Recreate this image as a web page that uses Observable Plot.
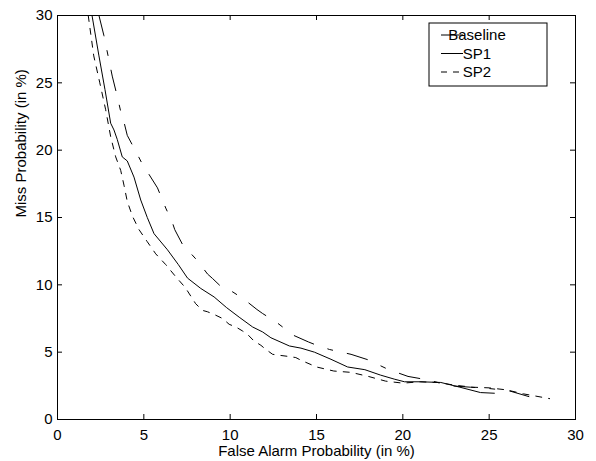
<!DOCTYPE html>
<html>
<head>
<meta charset="utf-8">
<script src="https://cdn.jsdelivr.net/npm/d3@7"></script>
<script src="https://cdn.jsdelivr.net/npm/@observablehq/plot@0.6"></script>
<style>
  html, body { margin: 0; padding: 0; background: #fff; }
  #chart svg { display: block; }
</style>
</head>
<body>
<div id="chart"></div>
<script>
const seriesNames = ["Baseline", "SP1", "SP2"];

const baselineX = [2.4, 2.69, 3.17, 3.46, 3.71, 3.81, 4.04, 4.62, 5.1, 5.3, 5.79, 6.27, 6.66, 6.79, 7.24, 8.1, 8.69, 8.98, 9.65, 10.14, 10.8, 11.55, 11.88, 12.65, 13.67, 14.53, 14.88, 15.75, 17.0, 17.97, 19.15, 20.3, 21.4, 22.8, 23.9, 25.0, 26.1, 27.3];
const baselineY = [30, 28.5, 25.5, 24.0, 22.6, 22.3, 21.1, 19.7, 18.5, 18.2, 17.2, 15.7, 14.6, 14.1, 13.0, 11.8, 10.8, 10.47, 9.65, 9.48, 8.93, 8.17, 7.87, 7.25, 6.25, 5.76, 5.58, 5.2, 4.84, 4.44, 3.72, 3.2, 2.95, 2.5, 2.4, 2.3, 2.15, 1.7];

const sp1X = [2.0, 2.4, 2.75, 3.08, 3.27, 3.46, 3.75, 4.04, 4.43, 4.82, 5.2, 5.59, 6.37, 7.0, 7.53, 8.3, 9.07, 9.8, 10.52, 11.3, 11.88, 12.36, 13.43, 14.1, 14.88, 15.84, 16.8, 17.8, 18.7, 19.5, 20.1, 21.0, 22.2, 23.3, 24.5, 25.3];
const sp1Y = [30, 27, 24.5, 22.0, 21.5, 20.8, 19.5, 19.2, 18.0, 16.3, 15.0, 13.8, 12.6, 11.5, 10.5, 9.73, 9.1, 8.3, 7.6, 6.87, 6.5, 6.07, 5.46, 5.3, 5.0, 4.47, 3.9, 3.7, 3.3, 3.0, 2.8, 2.8, 2.75, 2.4, 2.0, 1.95];

const sp2X = [1.78, 2.1, 2.45, 2.79, 3.08, 3.37, 3.66, 3.85, 4.04, 4.34, 4.72, 5.2, 5.69, 6.27, 6.85, 7.4, 8.0, 8.4, 8.69, 9.17, 9.56, 9.94, 10.33, 10.72, 11.0, 11.38, 11.78, 12.07, 12.46, 12.84, 13.33, 13.8, 14.1, 15, 16, 17, 18, 19, 20, 21, 22, 23, 24, 25, 26, 27, 28.5];
const sp2Y = [30, 27, 25, 23.0, 21.0, 19.5, 18.5, 17.4, 16.2, 15.1, 14.1, 13.2, 12.3, 11.5, 10.6, 9.8, 8.6, 8.1, 8.0, 7.74, 7.5, 7.07, 6.87, 6.57, 6.33, 5.83, 5.51, 5.2, 4.84, 4.77, 4.69, 4.6, 4.4, 3.9, 3.6, 3.5, 3.2, 2.85, 2.7, 2.8, 2.75, 2.55, 2.4, 2.35, 2.2, 1.9, 1.55];

const xTicks = [0, 5, 10, 15, 20, 25, 30];
const yTicks = [0, 5, 10, 15, 20, 25, 30];
const xLabel = "False Alarm Probability (in %)";
const yLabel = "Miss Probability (in %)";

const dashes = { "Baseline": "21,15,5,15", "SP1": null, "SP2": "6,7" };

const rows = (name, xs, ys) => xs.map((x, i) => ({ series: name, x, y: ys[i] }));
const data = [
  ...rows("Baseline", baselineX, baselineY),
  ...rows("SP1", sp1X, sp1Y),
  ...rows("SP2", sp2X, sp2Y)
];

const W = 596, H = 461;
const mTop = 15, mBottom = 42, mLeft = 57, mRight = 21;
const fw = W - mLeft - mRight, fh = H - mTop - mBottom;
const font = "'Liberation Sans', Arial, Helvetica, sans-serif";

const chart = Plot.plot({
  width: W,
  height: H,
  marginTop: mTop,
  marginBottom: mBottom,
  marginLeft: mLeft,
  marginRight: mRight,
  style: { fontFamily: font, fontSize: "15px", color: "#000", background: "#fff" },
  x: { domain: [0, 30] },
  y: { domain: [0, 30] },
  marks: [
    ...seriesNames.map(name => Plot.line(data.filter(d => d.series === name), {
      x: "x", y: "y", stroke: "#000", strokeWidth: 1,
      strokeDasharray: dashes[name] || undefined, strokeLinejoin: "round"
    })),
    // inward ticks on all four sides
    Plot.ruleX(xTicks, { x: d => d, insetTop: fh - 5, stroke: "#000" }),
    Plot.ruleX(xTicks, { x: d => d, insetBottom: fh - 5, stroke: "#000" }),
    Plot.ruleY(yTicks, { y: d => d, insetRight: fw - 5, stroke: "#000" }),
    Plot.ruleY(yTicks, { y: d => d, insetLeft: fw - 5, stroke: "#000" }),
    Plot.frame({ stroke: "#000", strokeWidth: 1 }),
    Plot.axisX({ ticks: xTicks, tickSize: 0, tickPadding: 10, label: null, fontSize: 15 }),
    Plot.axisY({ ticks: yTicks, tickSize: 0, tickPadding: 5, label: null, fontSize: 15 }),
    Plot.text([xLabel], { text: d => d, frameAnchor: "bottom", dy: 36, fontSize: 15, fill: "#000" }),
    Plot.text([yLabel], { text: d => d, frameAnchor: "left", rotate: -90, dx: -36, fontSize: 15, fill: "#000" })
  ]
});

document.getElementById("chart").appendChild(chart);

// Legend box (upper right, inside the axes)
const svg = d3.select(chart);
const lg = svg.append("g").attr("font-family", font).attr("font-size", 15);
const lx = 429, ly = 23, lw = 118, lh = 63;
lg.append("rect").attr("x", lx).attr("y", ly).attr("width", lw).attr("height", lh)
  .attr("fill", "#fff").attr("stroke", "#000").attr("stroke-width", 1);
seriesNames.forEach((name, i) => {
  const cy = ly + 12 + i * 18.5;
  lg.append("line").attr("x1", lx + 12).attr("x2", lx + 34).attr("y1", cy).attr("y2", cy)
    .attr("stroke", "#000").attr("stroke-width", 1)
    .attr("stroke-dasharray", name === "SP2" ? "6,6" : null);
  lg.append("text").attr("x", lx + 48).attr("y", cy).attr("dy", "0.35em")
    .attr("fill", "#000").text(name);
});
</script>
</body>
</html>
